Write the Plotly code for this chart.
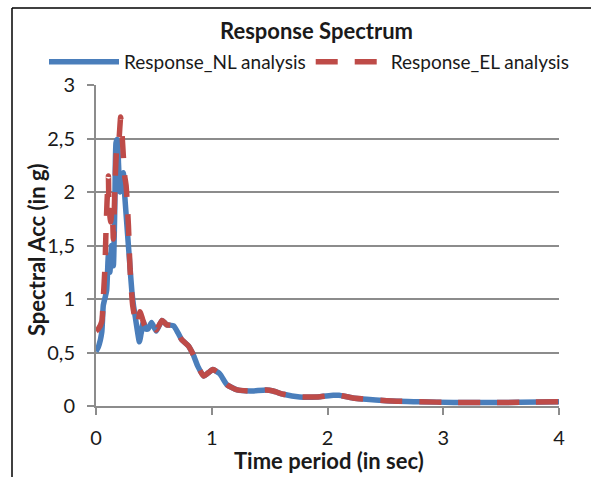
import plotly.graph_objects as go

# Time period (sec) and spectral acceleration (g)
nl_period = [0.0, 0.02, 0.05, 0.063, 0.08, 0.092, 0.107, 0.12, 0.135, 0.15, 0.163, 0.173, 0.184,
             0.195, 0.207, 0.222, 0.236, 0.25, 0.265, 0.28, 0.295, 0.31, 0.325, 0.337, 0.355,
             0.375, 0.39, 0.41, 0.43, 0.45, 0.48, 0.52, 0.57, 0.61, 0.67, 0.71, 0.74, 0.80,
             0.84, 0.88, 0.93, 0.97, 1.01, 1.07, 1.13, 1.22, 1.33, 1.47, 1.53, 1.62, 1.76,
             1.91, 2.05, 2.10, 2.22, 2.51, 2.80, 3.09, 3.38, 3.66, 4.0]
nl_acc = [0.51, 0.55, 0.69, 0.94, 1.02, 1.08, 1.41, 1.25, 1.50, 1.31, 1.90, 2.46, 2.49,
          2.25, 2.00, 2.10, 2.18, 1.94, 1.72, 1.50, 1.28, 1.07, 0.93, 0.85, 0.72,
          0.60, 0.68, 0.79, 0.72, 0.72, 0.78, 0.70, 0.80, 0.76, 0.75, 0.68, 0.62, 0.56,
          0.48, 0.37, 0.28, 0.31, 0.34, 0.30, 0.20, 0.15, 0.14, 0.15, 0.14, 0.11, 0.085,
          0.085, 0.10, 0.10, 0.075, 0.05, 0.04, 0.033, 0.032, 0.034, 0.04]

el_period = [0.0, 0.02, 0.05, 0.063, 0.078, 0.085, 0.095, 0.107, 0.112, 0.127, 0.14, 0.15,
             0.164, 0.179, 0.195, 0.213, 0.222, 0.236, 0.248, 0.26, 0.28, 0.294, 0.317,
             0.337, 0.36, 0.38, 0.40, 0.42, 0.45, 0.48, 0.52, 0.57, 0.61, 0.67, 0.71, 0.74,
             0.80, 0.84, 0.88, 0.93, 0.97, 1.01, 1.07, 1.13, 1.22, 1.33, 1.47, 1.53, 1.62,
             1.76, 1.91, 2.05, 2.10, 2.22, 2.51, 2.80, 3.09, 3.38, 3.66, 4.0]
el_acc = [0.70, 0.72, 0.79, 1.01, 1.31, 1.59, 1.90, 2.15, 1.87, 1.72, 1.85, 1.56,
          2.06, 2.40, 2.45, 2.70, 2.59, 2.34, 2.15, 2.06, 1.69, 1.28, 0.94,
          0.82, 0.76, 0.88, 0.82, 0.75, 0.72, 0.76, 0.71, 0.80, 0.76, 0.75, 0.68, 0.62,
          0.56, 0.48, 0.37, 0.28, 0.31, 0.34, 0.30, 0.20, 0.15, 0.14, 0.15, 0.14, 0.11,
          0.085, 0.085, 0.10, 0.10, 0.075, 0.05, 0.04, 0.033, 0.032, 0.034, 0.04]

x_ticks = [0, 1, 2, 3, 4]
y_ticks = [0, 0.5, 1, 1.5, 2, 2.5, 3]

FONT = "Lato"
GRID = "#8c8c8c"
L, R, T, B = 96, 32, 85, 71
PW, PH = 591 - L - R, 477 - T - B


def px_x(px):
    return (px - L) / PW


def px_y(py):
    return (477 - B - py) / PH


fig = go.Figure()
fig.add_trace(go.Scatter(x=nl_period, y=nl_acc, mode="lines", name="Response_NL analysis",
                         line=dict(color="#4a7ebb", width=5.5, shape="spline", smoothing=0.5)))
fig.add_trace(go.Scatter(x=el_period, y=el_acc, mode="lines", name="Response_EL analysis",
                         line=dict(color="#be4b48", width=5.5, dash="22px,17px",
                                   shape="spline", smoothing=0.5)))

fig.update_layout(
    width=591, height=477,
    margin=dict(l=L, r=R, t=T, b=B, autoexpand=False),
    paper_bgcolor="white", plot_bgcolor="white",
    separators=", ",
    font=dict(family=FONT, color="#1a1a1a", size=19),
    title=dict(text="<b>Response Spectrum</b>", x=316.5 / 591, xanchor="center",
               y=1 - 31 / 477, yanchor="middle", font=dict(size=22, family=FONT)),
    legend=dict(orientation="h", x=px_x(44), xanchor="left", y=px_y(62),
                yanchor="middle", itemwidth=70, font=dict(size=19, family=FONT),
                bgcolor="rgba(0,0,0,0)", tracegroupgap=0),
    showlegend=True,
    xaxis=dict(range=[0, 4], tickvals=x_ticks, ticks="outside", ticklen=7, tickwidth=2,
               tickcolor=GRID, showline=True, linecolor=GRID, linewidth=2, showgrid=False,
               zeroline=False, tickfont=dict(size=20), automargin=False,
               ticklabelstandoff=6),
    yaxis=dict(range=[0, 3], tickvals=y_ticks, ticks="outside", ticklen=7, tickwidth=2,
               tickcolor=GRID, showline=True, linecolor=GRID, linewidth=2, showgrid=True,
               gridcolor=GRID, gridwidth=2, zeroline=False, tickfont=dict(size=20),
               automargin=False, ticklabelstandoff=8),
)

fig.add_annotation(text="<b>Time period (in sec)</b>", xref="paper", yref="paper",
                   x=px_x(328.5), y=px_y(461), xanchor="center", yanchor="middle",
                   showarrow=False, font=dict(size=22, family=FONT))
fig.add_annotation(text="<b>Spectral Acc (in g)</b>", xref="paper", yref="paper",
                   x=px_x(36), y=px_y(249), xanchor="center", yanchor="middle",
                   textangle=-90, showarrow=False, font=dict(size=22, family=FONT))

# Chart-area border (left and top edges visible in the crop)
fig.add_shape(type="line", xref="paper", yref="paper",
              x0=px_x(12), x1=px_x(12), y0=px_y(8), y1=px_y(490),
              line=dict(color="black", width=1.5))
fig.add_shape(type="line", xref="paper", yref="paper",
              x0=px_x(12), x1=px_x(600), y0=px_y(8), y1=px_y(8),
              line=dict(color="black", width=1.5))

fig.write_html("out.html", config={"displayModeBar": False},
               post_script="document.body.style.margin='0';document.body.style.padding='0';")
